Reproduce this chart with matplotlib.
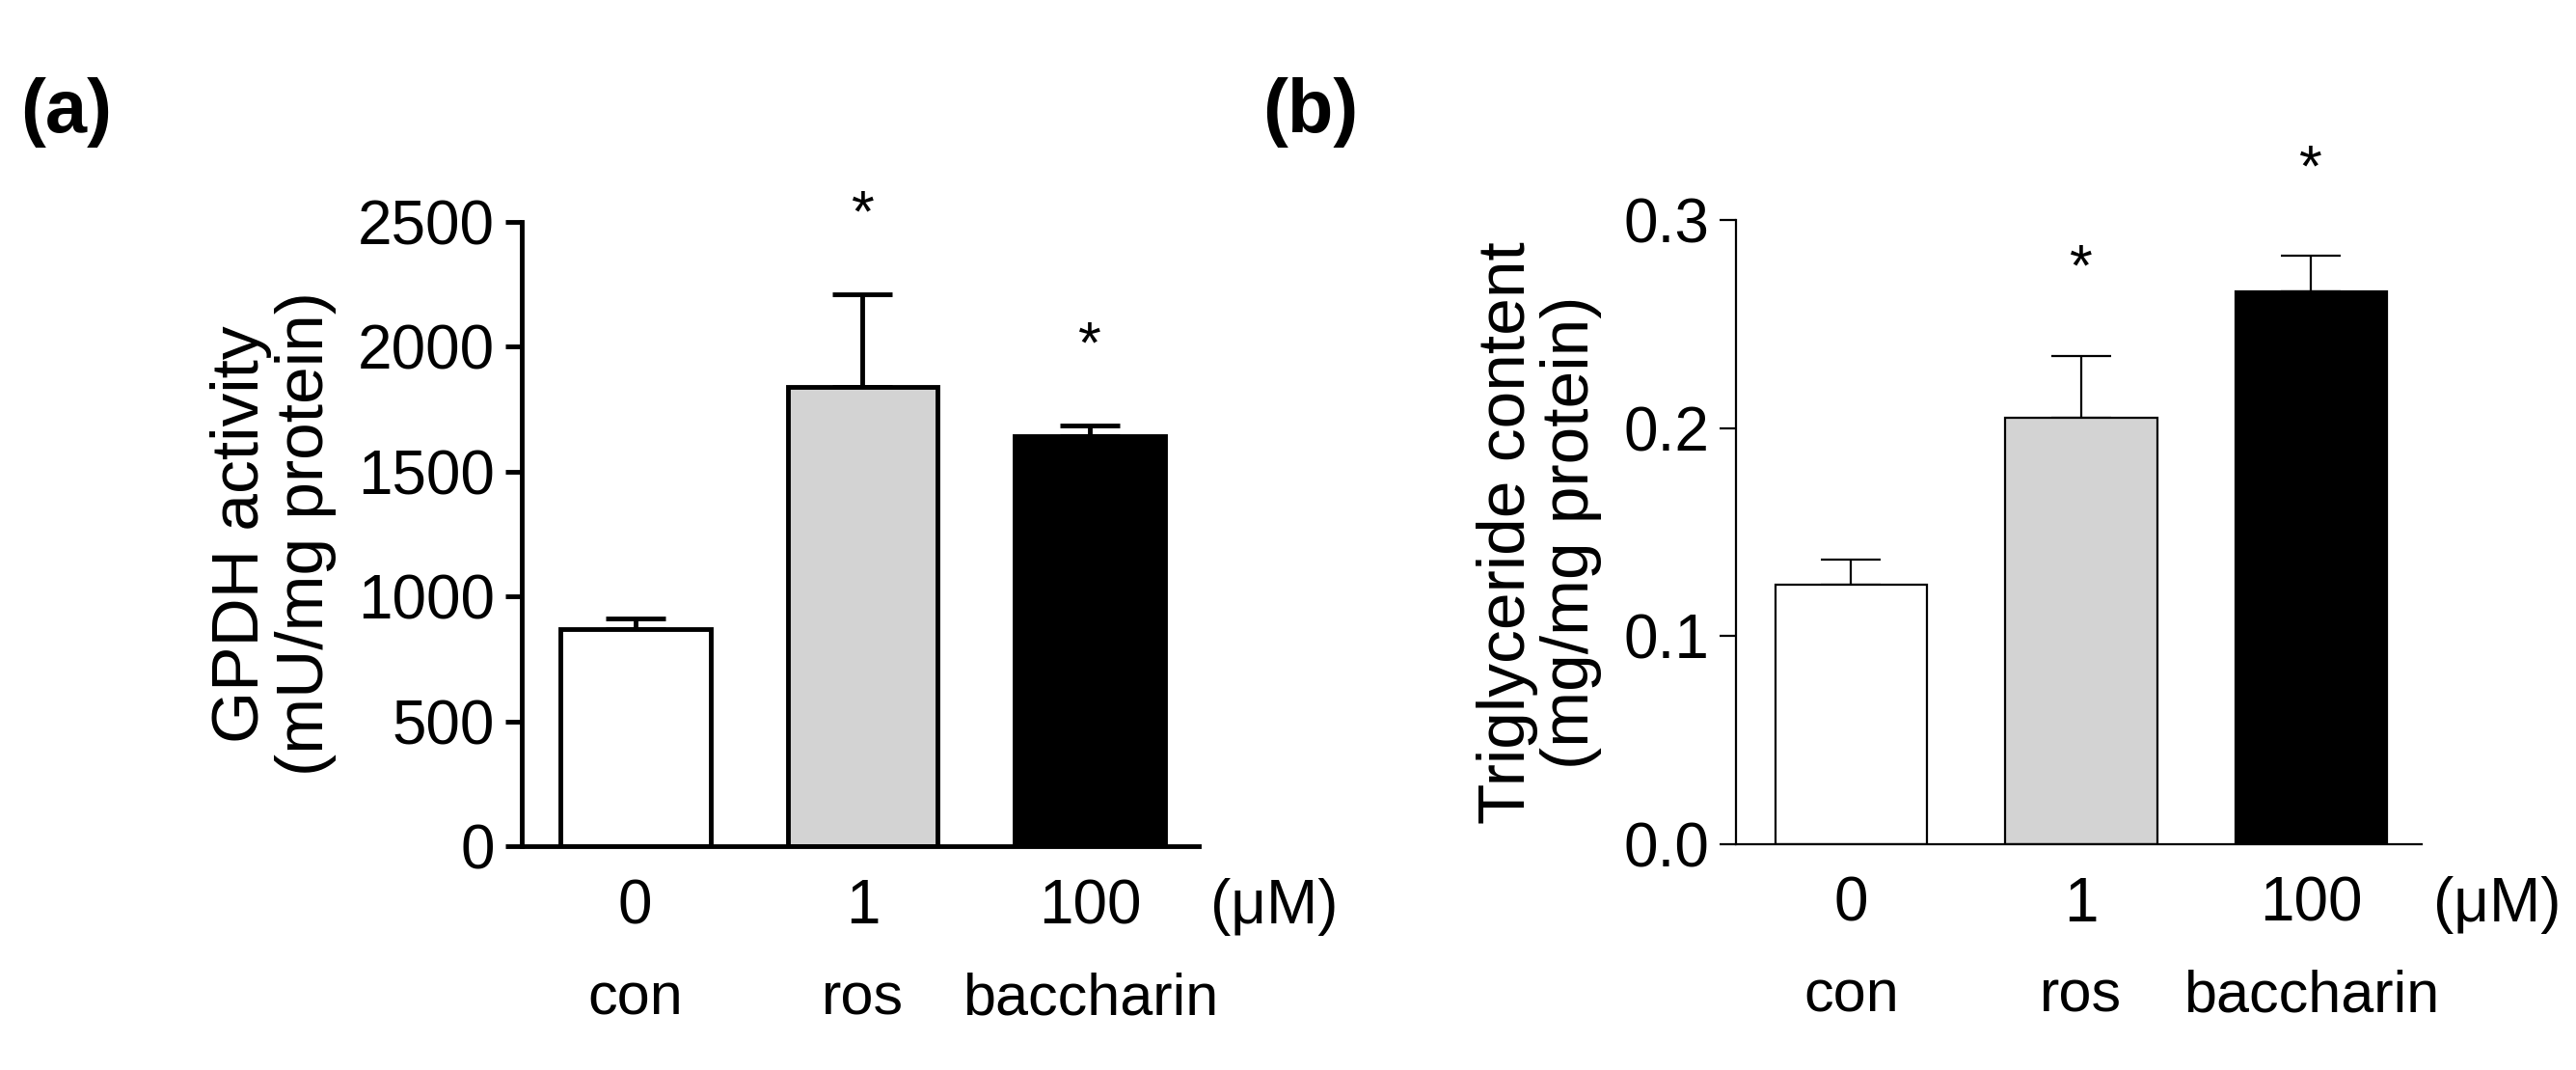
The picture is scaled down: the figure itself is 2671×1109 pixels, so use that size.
import matplotlib.pyplot as plt
import numpy as np

plt.rcParams['font.family'] = ['Liberation Sans', 'DejaVu Sans']

doses = ['0', '1', '100']
groups = ['con', 'ros', 'baccharin']
colors = ['white', '#d3d3d3', 'black']

gpdh = [870, 1840, 1640]
gpdh_err = [40, 370, 45]
tg = [0.125, 0.205, 0.266]
tg_err = [0.012, 0.030, 0.017]
signif = ['', '*', '*']

fig = plt.figure(figsize=(26.71, 11.09), dpi=100)


def panel(rect, vals, errs, ylim, ticks, ticklabels, ylabel, lw, star_off, letter, letter_x):
    ax = fig.add_axes(rect)
    x = np.arange(len(vals))
    ax.bar(x, vals, width=0.66, color=colors, edgecolor='black', linewidth=lw, zorder=2)
    ax.errorbar(x, vals, yerr=[np.zeros(len(errs)), errs], fmt='none', ecolor='black',
                elinewidth=lw, capsize=22, capthick=lw, zorder=1)
    for xi, v, e, s in zip(x, vals, errs, signif):
        if s:
            ax.text(xi, v + e + star_off, s, ha='center', va='center', fontsize=44, clip_on=False)
    ax.set_xlim(-0.5, 2.48)
    ax.set_ylim(*ylim)
    ax.set_yticks(ticks)
    ax.set_yticklabels(ticklabels, fontsize=46)
    ax.set_xticks([])
    for sp in ['top', 'right']:
        ax.spines[sp].set_visible(False)
    ax.spines['left'].set_linewidth(lw)
    ax.spines['bottom'].set_linewidth(lw)
    ax.tick_params(axis='y', length=12, width=lw, pad=8)
    ax.set_ylabel(ylabel, fontsize=50, linespacing=1.05, labelpad=16)
    tr = ax.get_xaxis_transform()
    for xi, d, g in zip(x, doses, groups):
        ax.text(xi, -0.097, d, transform=tr, ha='center', va='center', fontsize=46)
        ax.text(xi, -0.245, g, transform=tr, ha='center', va='center', fontsize=44)
    ax.text(2.53, -0.097, '(μM)', transform=tr, ha='left', va='center', fontsize=46)
    fig.text(letter_x, 0.895, letter, fontsize=56, fontweight='bold', ha='left', va='center')
    return ax


panel([0.2025, 0.209, 0.263, 0.584], gpdh, gpdh_err, (0, 2500),
      [0, 500, 1000, 1500, 2000, 2500], ['0', '500', '1000', '1500', '2000', '2500'],
      'GPDH activity\n(mU/mg protein)', 3.5, 310, '(a)', 0.008)
panel([0.674, 0.211, 0.266, 0.583], tg, tg_err, (0, 0.3),
      [0, 0.1, 0.2, 0.3], ['0.0', '0.1', '0.2', '0.3'],
      'Triglyceride content\n(mg/mg protein)', 1.6, 0.041, '(b)', 0.49)

fig.savefig('out.png', dpi=100)
